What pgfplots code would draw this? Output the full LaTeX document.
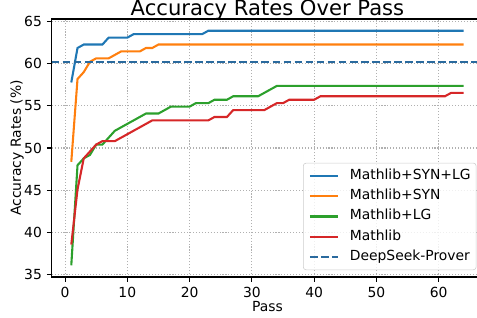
\documentclass[border=0pt]{standalone}
\usepackage{fontspec}
\setmainfont{DejaVu Sans}
\usepackage{pgfplots}
\pgfplotsset{compat=1.18}
\definecolor{cblue}{HTML}{1F77B4}
\definecolor{corange}{HTML}{FF7F0E}
\definecolor{cgreen}{HTML}{2CA02C}
\definecolor{cred}{HTML}{D62728}
\definecolor{cds}{HTML}{2A6A9E}
\definecolor{cgrid}{HTML}{B0B0B0}
\begin{document}
\begin{tikzpicture}
\begin{axis}[
  at={(0,0)}, anchor=south west,
  scale only axis, width=310.7pt, height=185.76pt,
  xmin=-2.15, xmax=67.15, ymin=34.67, ymax=65.33,
  xtick={0,10,20,30,40,50,60}, ytick={35,40,45,50,55,60,65},
  grid=major,
  major grid style={color=cgrid, line width=0.8pt, dash pattern=on 0.8pt off 1.32pt},
  tick align=outside, tick pos=left, major tick length=3.5pt,
  tick style={black, line width=0.8pt},
  axis line style={black, line width=0.8pt},
  /pgf/number format/assume math mode=true,
  ticklabel style={font=\fontsize{10}{12}\selectfont},
  label style={font=\fontsize{10}{12}\selectfont},
  title={Accuracy Rates Over Pass},
  every axis title/.style={at={(0.5,1)}, anchor=base, yshift=2.4pt, font=\fontsize{15.2}{18}\selectfont},
  xlabel={Pass},
  ylabel={Accuracy Rates (\%)},
  xlabel style={at={(axis description cs:0.5,0)}, anchor=center, yshift=-21pt},
  ylabel style={at={([xshift=-25pt]axis description cs:0,0.5)}, anchor=center},
  legend cell align=left,
  legend image code/.code={\draw[#1] (0pt,0pt) -- (20pt,0pt);},
  legend style={at={(1,0)}, anchor=south east, xshift=-4.9pt, yshift=5pt,
    draw=black!20, rounded corners=2pt, fill=white, fill opacity=0.8, text opacity=1,
    font=\fontsize{10}{12}\selectfont, inner sep=4pt, row sep=4.7pt,
    nodes={inner sep=0pt, text height=7.5pt, text depth=2.5pt},
    /tikz/every odd column/.style={column sep=8pt}},
]
\addplot[cblue, line width=1.5pt] coordinates {
(1,57.787) (2,61.885) (3,62.295) (6,62.295) (7,63.115) (10,63.115) (11,63.525) (22,63.525) (23,63.934) (64,63.934)};
\addlegendentry{Mathlib+SYN+LG}
\addplot[corange, line width=1.5pt] coordinates {
(1,48.361) (2,58.197) (3,59.016) (4,60.246) (5,60.656) (7,60.656) (8,61.066) (9,61.475) (12,61.475) (13,61.885) (14,61.885) (15,62.295) (64,62.295)};
\addlegendentry{Mathlib+SYN}
\addplot[cgreen, line width=1.5pt] coordinates {
(1,36.066) (2,47.951) (3,48.770) (4,49.180) (5,50.410) (6,50.410) (7,51.230) (8,52.049) (9,52.459) (10,52.869) (11,53.279) (12,53.689) (13,54.098) (15,54.098) (16,54.508) (17,54.918) (20,54.918) (21,55.328) (23,55.328) (24,55.738) (26,55.738) (27,56.148) (31,56.148) (32,56.557) (33,56.967) (34,57.377) (64,57.377)};
\addlegendentry{Mathlib+LG}
\addplot[cred, line width=1.5pt] coordinates {
(1,38.525) (2,45.082) (3,48.770) (4,49.590) (5,50.410) (6,50.820) (8,50.820) (9,51.230) (10,51.639) (11,52.049) (12,52.459) (13,52.869) (14,53.279) (23,53.279) (24,53.689) (26,53.689) (27,54.508) (32,54.508) (33,54.918) (34,55.328) (35,55.328) (36,55.738) (40,55.738) (41,56.148) (61,56.148) (62,56.557) (64,56.557)};
\addlegendentry{Mathlib}
\addplot[cds, line width=1.5pt, dash pattern=on 5.55pt off 2.4pt] coordinates {(-2.15,60.246) (67.15,60.246)};
\addlegendentry{DeepSeek-Prover}
\end{axis}
\pgfresetboundingbox
\useasboundingbox (-37.2pt,-29.5pt) rectangle (306.2pt,199.44pt);
\end{tikzpicture}
\end{document}
